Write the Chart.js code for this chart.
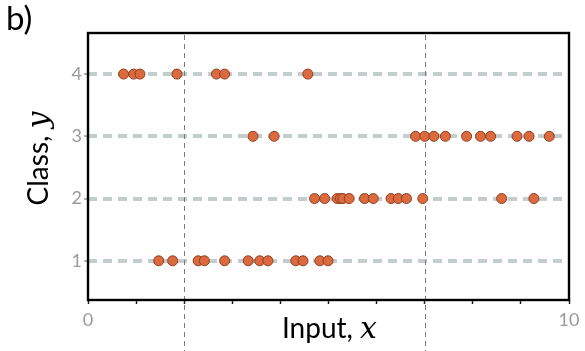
<!DOCTYPE html>
<html>
<head>
<meta charset="utf-8">
<script src="https://cdn.jsdelivr.net/npm/chart.js@4.4.1/dist/chart.umd.min.js"></script>
<style>
  html, body { margin: 0; padding: 0; background: #fff; }
  #wrap { width: 585px; height: 351px; }
</style>
</head>
<body>
<div id="wrap"><canvas id="classChart" width="585" height="351"></canvas></div>
<script>
// inputs x observed for each class label
const class1X = [1.47, 1.76, 2.29, 2.42, 2.84, 3.33, 3.57, 3.74, 4.32, 4.47, 4.82, 4.99];
const class2X = [4.71, 4.92, 5.18, 5.25, 5.30, 5.43, 5.75, 5.93, 6.30, 6.45, 6.62, 6.96, 8.60, 9.27];
const class3X = [3.43, 3.87, 6.81, 7.00, 7.19, 7.43, 7.87, 8.16, 8.37, 8.92, 9.17, 9.59];
const class4X = [0.74, 0.95, 1.08, 1.85, 2.67, 2.84, 4.57];
const classes = [1, 2, 3, 4];
const xTickLabels = [0, 10];
// region boundaries in x
const boundaries = [2, 7];

const FONT = 'Lato, "Open Sans", sans-serif';
const groups = [class1X, class2X, class3X, class4X];

const datasets = groups.map((xs, i) => ({
  label: 'Class ' + classes[i],
  data: xs.map(x => ({ x: x, y: classes[i] })),
  pointRadius: 5,
  pointHoverRadius: 5,
  pointBackgroundColor: '#dc6a3f',
  pointBorderColor: '#8f3d1f',
  pointBorderWidth: 1,
  showLine: false
}));

// draws text made of a sans part followed by an italic math letter
function mixedText(ctx, plain, letter, x, y, align) {
  const sans = '28px ' + FONT;
  const math = 'italic 30px "DejaVu Serif", "Liberation Serif", serif';
  ctx.font = sans;
  const w1 = ctx.measureText(plain).width;
  ctx.font = math;
  const w2 = ctx.measureText(letter).width;
  const sx = align === 'center' ? x - (w1 + w2) / 2 : x;
  ctx.font = sans;
  ctx.fillText(plain, sx, y);
  ctx.font = math;
  ctx.fillText(letter, sx + w1, y);
}

const decorations = {
  id: 'decorations',
  beforeDatasetsDraw(chart) {
    const { ctx, chartArea, scales } = chart;
    ctx.save();
    ctx.strokeStyle = '#7a7a7a';
    ctx.lineWidth = 1;
    ctx.setLineDash([5, 4]);
    boundaries.forEach(b => {
      const px = Math.round(scales.x.getPixelForValue(b)) + 0.5;
      ctx.beginPath();
      ctx.moveTo(px, chartArea.top + 2);
      ctx.lineTo(px, chart.height);
      ctx.stroke();
    });
    ctx.restore();
  },
  afterDraw(chart) {
    const { ctx, chartArea } = chart;
    ctx.save();
    // frame
    ctx.strokeStyle = '#000';
    ctx.lineWidth = 2.4;
    ctx.strokeRect(chartArea.left, chartArea.top, chartArea.right - chartArea.left, chartArea.bottom - chartArea.top);

    // panel letter
    ctx.fillStyle = '#000';
    ctx.font = '33px ' + FONT;
    ctx.textBaseline = 'alphabetic';
    ctx.textAlign = 'left';
    ctx.fillText('b)', 6, 30);

    // axis titles
    const cx = (chartArea.left + chartArea.right) / 2 + 1;
    mixedText(ctx, 'Input, ', 'x', cx, 338, 'center');

    ctx.translate(48, (chartArea.top + chartArea.bottom) / 2 - 8);
    ctx.rotate(-Math.PI / 2);
    mixedText(ctx, 'Class, ', 'y', 0, 0, 'center');
    ctx.restore();
  }
};

new Chart(document.getElementById('classChart'), {
  type: 'scatter',
  data: { datasets: datasets },
  options: {
    responsive: false,
    animation: false,
    layout: { padding: { left: 0, top: 33, right: 16, bottom: 0 } },
    plugins: { legend: { display: false }, tooltip: { enabled: false } },
    scales: {
      x: {
        type: 'linear',
        min: 0,
        max: 10,
        afterFit(scale) { scale.height = 51; },
        ticks: {
          stepSize: 1,
          padding: 5,
          color: '#9a9a9a',
          font: { family: FONT, size: 18 },
          maxRotation: 0,
          callback: v => (xTickLabels.includes(v) ? String(v) : '')
        },
        grid: {
          drawOnChartArea: false,
          drawTicks: true,
          tickLength: 4,
          tickColor: '#222',
          tickWidth: 1.5
        },
        border: { display: false }
      },
      y: {
        type: 'linear',
        min: 0.37,
        max: 4.66,
        afterFit(scale) { scale.width = 88; },
        afterBuildTicks(scale) { scale.ticks = classes.map(v => ({ value: v })); },
        ticks: {
          padding: 2,
          color: '#9a9a9a',
          font: { family: FONT, size: 18 },
          callback: v => String(v)
        },
        grid: {
          color: '#c4cdcd',
          lineWidth: 4,
          drawTicks: true,
          tickLength: 4,
          tickColor: '#b0b0b0',
          tickWidth: 2,
          tickBorderDash: []
        },
        border: { display: false, dash: [9, 6] }
      }
    }
  },
  plugins: [decorations]
});
</script>
</body>
</html>
